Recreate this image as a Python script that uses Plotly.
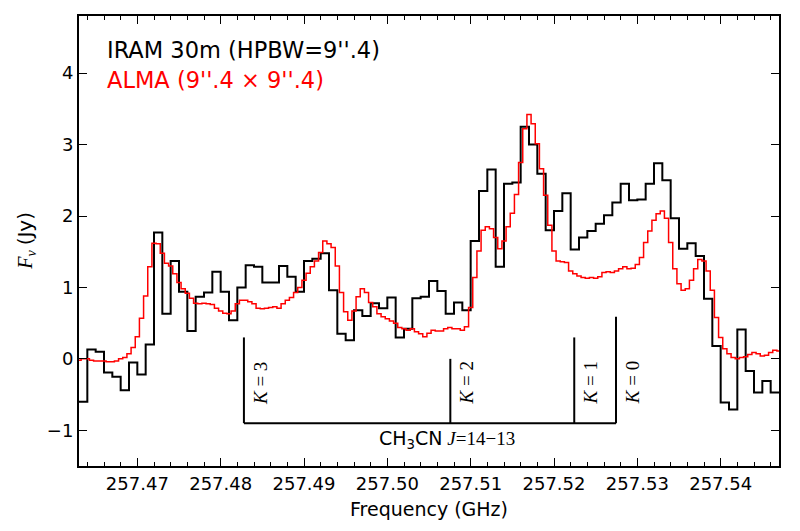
import numpy as np
import plotly.graph_objects as go

# ---------------- data ----------------
# IRAM 30m spectrum: channel centres start at 257.4635 GHz, width 1 MHz
iram_start = 257.4635
iram_width = 0.001
iram_flux = [-0.60, 0.13, 0.10, -0.19, -0.25, -0.44, -0.05, -0.22, 0.20, 1.77,
             0.63, 1.37, 0.94, 0.39, 0.87, 0.93, 1.22, 0.94, 0.54, 1.00,
             1.31, 1.29, 1.07, 1.07, 1.30, 1.15, 0.94, 1.37, 1.40, 1.48,
             0.96, 0.35, 0.26, 0.68, 0.60, 0.78, 0.71, 0.86, 0.30, 0.42,
             0.85, 0.87, 1.09, 0.95, 0.63, 0.79, 0.68, 1.65, 2.35, 2.65,
             1.29, 2.45, 2.47, 3.25, 3.00, 2.59, 1.80, 2.07, 2.32, 1.53,
             1.70, 1.79, 1.89, 2.01, 2.19, 2.45, 2.22, 2.23, 2.45, 2.74,
             2.50, 1.97, 1.54, 1.62, 1.44, 0.84, 0.18, -0.61, -0.71, 0.41,
             -0.17, -0.47, -0.31, -0.47]

# ALMA spectrum: channel centres start at 257.463 GHz, width 0.5 MHz
alma_start = 257.463
alma_width = 0.0005
alma_flux = [-0.02, 0.00, 0.00, -0.02, -0.03, -0.03, -0.03, -0.04, -0.04, -0.03,
             0.00, 0.02, 0.07, 0.16, 0.31, 0.57, 0.88, 1.29, 1.62, 1.61,
             1.48, 1.34, 1.30, 1.19, 1.07, 0.98, 0.92, 0.85, 0.78, 0.77,
             0.78, 0.77, 0.76, 0.71, 0.67, 0.64, 0.63, 0.67, 0.77, 0.82,
             0.82, 0.80, 0.77, 0.71, 0.70, 0.71, 0.72, 0.73, 0.71, 0.77,
             0.82, 0.86, 0.93, 1.00, 1.10, 1.20, 1.29, 1.37, 1.49, 1.65,
             1.61, 1.56, 1.30, 0.93, 0.66, 0.54, 0.67, 0.87, 0.98, 0.93,
             0.79, 0.73, 0.63, 0.59, 0.56, 0.53, 0.50, 0.44, 0.42, 0.40,
             0.42, 0.38, 0.35, 0.31, 0.36, 0.40, 0.39, 0.39, 0.42, 0.44,
             0.42, 0.42, 0.40, 0.45, 0.72, 1.14, 1.51, 1.80, 1.85, 1.82,
             1.70, 1.54, 1.65, 1.85, 2.04, 2.30, 2.75, 3.22, 3.42, 3.29,
             3.01, 2.66, 2.29, 1.87, 1.51, 1.37, 1.36, 1.35, 1.23, 1.19,
             1.16, 1.14, 1.13, 1.14, 1.13, 1.15, 1.21, 1.22, 1.21, 1.23,
             1.26, 1.29, 1.26, 1.27, 1.32, 1.42, 1.63, 1.79, 1.94, 2.03,
             2.07, 1.97, 1.63, 1.26, 1.05, 0.96, 0.98, 1.10, 1.26, 1.39,
             1.37, 1.23, 0.96, 0.58, 0.30, 0.14, 0.07, 0.02, 0.00, 0.02,
             0.03, 0.06, 0.09, 0.07, 0.04, 0.05, 0.09, 0.12, 0.11]

# CH3CN J=14-13 K ladder
k_labels = ["3", "2", "1", "0"]
k_freqs = [257.48279, 257.50756, 257.52243, 257.52744]
k_tops = [0.30, 0.00, 0.30, 0.59]
ladder_base = -0.9
k_label_y = -0.34
ladder_label_x = 257.5071

x_range = [257.463, 257.547]
y_range = [-1.5, 4.8]
x_ticks = [257.47, 257.48, 257.49, 257.50, 257.51, 257.52, 257.53, 257.54]
y_ticks = [-1, 0, 1, 2, 3, 4]


def step_xy(start, width, vals):
    centres = start + width * np.arange(len(vals))
    edges = list(centres - width / 2) + [centres[-1] + width / 2]
    return edges, list(vals) + [vals[-1]]


fig = go.Figure()
bx, by = step_xy(iram_start, iram_width, iram_flux)
ax_, ay_ = step_xy(alma_start, alma_width, alma_flux)
fig.add_trace(go.Scatter(x=bx, y=by, mode="lines", line=dict(color="black", width=2, shape="hv"),
                         showlegend=False, hoverinfo="skip"))
fig.add_trace(go.Scatter(x=ax_, y=ay_, mode="lines", line=dict(color="#ff0000", width=1.5, shape="hv"),
                         showlegend=False, hoverinfo="skip"))

# ladder
shapes = []
for f, top in zip(k_freqs, k_tops):
    shapes.append(dict(type="line", xref="x", yref="y", x0=f, x1=f, y0=ladder_base, y1=top,
                       line=dict(color="black", width=2)))
shapes.append(dict(type="line", xref="x", yref="y", x0=min(k_freqs), x1=max(k_freqs),
                   y0=ladder_base, y1=ladder_base, line=dict(color="black", width=2)))

serif = "Liberation Serif"
sans = "DejaVu Sans"
annotations = []
for lab, f in zip(k_labels, k_freqs):
    annotations.append(dict(x=f, y=k_label_y, xref="x", yref="y", text=f"<i>K</i> = {lab}",
                            textangle=-90, showarrow=False, xshift=16, xanchor="center", yanchor="middle",
                            font=dict(family=serif, size=19, color="black")))
annotations.append(dict(x=ladder_label_x, y=ladder_base, xref="x", yref="y",
                        text=f'<span style="font-family:{sans}">CH<sub>3</sub>CN</span> <i>J</i>=14\u221213',
                        showarrow=False, xanchor="center", yanchor="top", yshift=-2,
                        font=dict(family=serif, size=19, color="black")))
annotations.append(dict(x=0.037, y=0.924, xref="paper", yref="paper", xanchor="left", yanchor="middle",
                        text="IRAM 30m (HPBW=9''.4)", showarrow=False,
                        font=dict(family=sans, size=22.5, color="black")))
annotations.append(dict(x=0.037, y=0.858, xref="paper", yref="paper", xanchor="left", yanchor="middle",
                        text="ALMA (9''.4 \u00d7 9''.4)", showarrow=False,
                        font=dict(family=sans, size=22.5, color="#ff0000")))
annotations.append(dict(x=-0.076, y=0.5, xref="paper", yref="paper", textangle=-90,
                        xanchor="center", yanchor="middle",
                        text=f'<i>F</i><sub><i>\u03bd</i></sub> <span style="font-family:{sans}">(Jy)</span>',
                        showarrow=False, font=dict(family=serif, size=20, color="black")))
annotations.append(dict(x=0.5, y=-0.096, xref="paper", yref="paper", xanchor="center", yanchor="middle",
                        text="Frequency (GHz)", showarrow=False,
                        font=dict(family=sans, size=19, color="black")))

# the page body has an 8px margin, so the figure is offset by 8px
fig.update_layout(
    width=800, height=531,
    margin=dict(l=71, r=29, t=8, b=73),
    paper_bgcolor="white", plot_bgcolor="white",
    shapes=shapes, annotations=annotations,
)
fig.update_xaxes(range=x_range, tickvals=x_ticks, ticktext=[f"{v:.2f}" for v in x_ticks],
                 ticks="inside", ticklen=8, tickwidth=1.2, tickcolor="black",
                 minor=dict(dtick=0.002, tick0=257.47, ticks="inside", ticklen=4, tickwidth=1, tickcolor="black"),
                 showline=True, linecolor="black", linewidth=2, mirror="ticks",
                 showgrid=False, zeroline=False, automargin=False,
                 tickfont=dict(family=sans, size=18, color="black"))
fig.update_yaxes(range=y_range, tickvals=y_ticks, ticktext=[("\u2212" + str(-v)) if v < 0 else str(v) for v in y_ticks],
                 ticks="inside", ticklen=8, tickwidth=1.2, tickcolor="black",
                 showline=True, linecolor="black", linewidth=2, mirror="ticks",
                 showgrid=False, zeroline=False, automargin=False,
                 tickfont=dict(family=sans, size=18, color="black"))

fig.write_html("out.html")
